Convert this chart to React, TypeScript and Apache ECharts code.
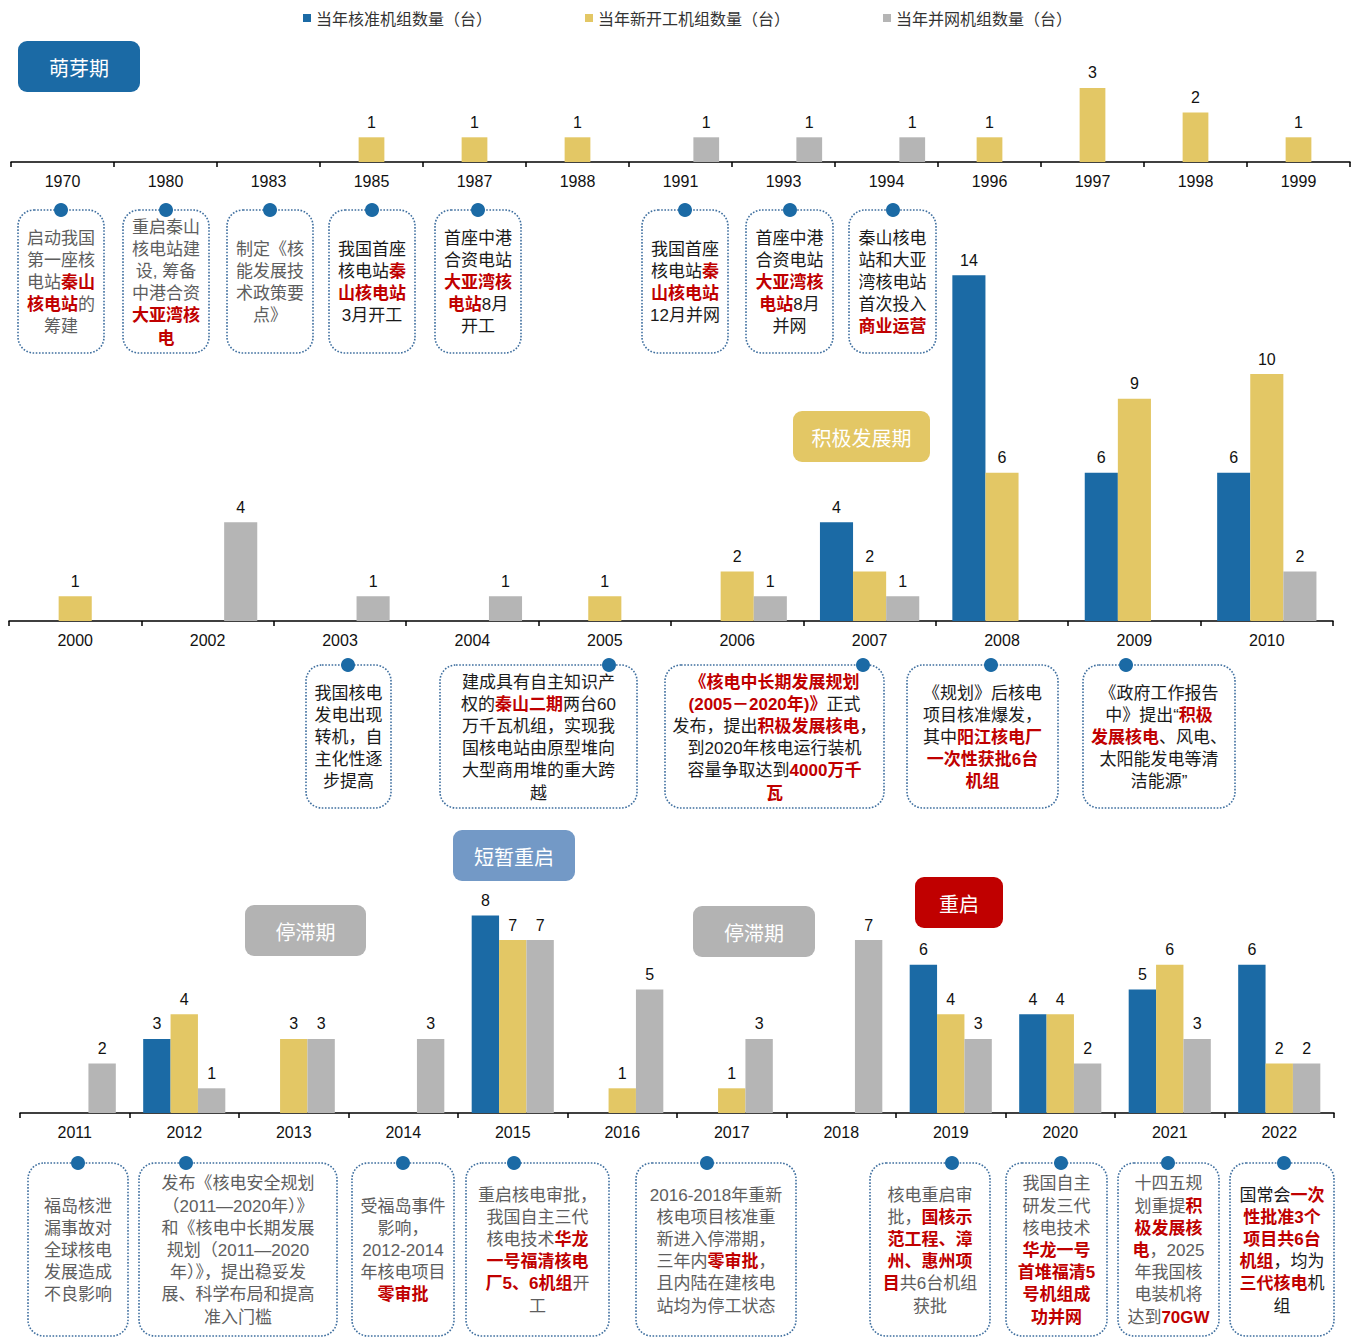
import React, { useEffect, useRef } from 'react';
import * as echarts from 'echarts';

// ---------- data ----------
const SERIES_NAMES = ['当年核准机组数量（台）', '当年新开工机组数量（台）', '当年并网机组数量（台）'];

const years1 = ['1970', '1980', '1983', '1985', '1987', '1988', '1991', '1993', '1994', '1996', '1997', '1998', '1999'];
const approved1 = [null, null, null, null, null, null, null, null, null, null, null, null, null];
const started1 = [null, null, null, 1, 1, 1, null, null, null, 1, 3, 2, 1];
const connected1 = [null, null, null, null, null, null, 1, 1, 1, null, null, null, null];

const years2 = ['2000', '2002', '2003', '2004', '2005', '2006', '2007', '2008', '2009', '2010'];
const approved2 = [null, null, null, null, null, null, 4, 14, 6, 6];
const started2 = [1, null, null, null, 1, 2, 2, 6, 9, 10];
const connected2 = [null, 4, 1, 1, null, 1, 1, null, null, 2];

const years3 = ['2011', '2012', '2013', '2014', '2015', '2016', '2017', '2018', '2019', '2020', '2021', '2022'];
const approved3 = [null, 3, null, null, 8, null, null, null, 6, 4, 5, 6];
const started3 = [null, 4, 3, null, 7, 1, 1, null, 4, 4, 6, 2];
const connected3 = [2, 1, 3, 3, 7, 5, 3, 7, 3, 2, 3, 2];

const PHASE_TAGS = ['萌芽期', '积极发展期', '短暂重启', '停滞期', '停滞期', '重启'];

// [..] marks red bold emphasis
const NOTES_ROW1 = [
  ['启动我国', '第一座核', '电站[秦山]', '[核电站]的', '筹建'],
  ['重启秦山', '核电站建', '设, 筹备', '中港合资', '[大亚湾核]', '[电]'],
  ['制定《核', '能发展技', '术政策要', '点》'],
  ['我国首座', '核电站[秦]', '[山核电站]', '3月开工'],
  ['首座中港', '合资电站', '[大亚湾核]', '[电站]8月', '开工'],
  ['我国首座', '核电站[秦]', '[山核电站]', '12月并网'],
  ['首座中港', '合资电站', '[大亚湾核]', '[电站]8月', '并网'],
  ['秦山核电', '站和大亚', '湾核电站', '首次投入', '[商业运营]'],
];
const NOTES_ROW2 = [
  ['我国核电', '发电出现', '转机，自', '主化性逐', '步提高'],
  ['建成具有自主知识产', '权的[秦山二期]两台60', '万千瓦机组，实现我', '国核电站由原型堆向', '大型商用堆的重大跨', '越'],
  ['[《核电中长期发展规划]', '[(2005－2020年)》]正式', '发布，提出[积极发展核电]，', '到2020年核电运行装机', '容量争取达到[4000万千]', '[瓦]'],
  ['《规划》后核电', '项目核准爆发，', '其中[阳江核电厂]', '[一次性获批6台]', '[机组]'],
  ['《政府工作报告', '中》提出“[积极]', '[发展核电]、风电、', '太阳能发电等清', '洁能源”'],
];
const NOTES_ROW3 = [
  ['福岛核泄', '漏事故对', '全球核电', '发展造成', '不良影响'],
  ['发布《核电安全规划', '（2011—2020年）》', '和《核电中长期发展', '规划（2011—2020', '年）》，提出稳妥发', '展、科学布局和提高', '准入门槛'],
  ['受福岛事件', '影响，', '2012-2014', '年核电项目', '[零审批]'],
  ['重启核电审批，', '我国自主三代', '核电技术[华龙]', '[一号福清核电]', '[厂5、6机组]开', '工'],
  ['2016-2018年重新', '核电项目核准重', '新进入停滞期，', '三年内[零审批]，', '且内陆在建核电', '站均为停工状态'],
  ['核电重启审', '批，[国核示]', '[范工程、漳]', '[州、惠州项]', '[目]共6台机组', '获批'],
  ['我国自主', '研发三代', '核电技术', '[华龙一号]', '[首堆福清5]', '[号机组成]', '[功并网]'],
  ['十四五规', '划重提[积]', '[极发展核]', '[电]，2025', '年我国核', '电装机将', '达到[70GW]'],
  ['国常会[一次]', '[性批准3个]', '[项目共6台]', '[机组]，均为', '[三代核电]机', '组'],
];

// ---------- layout / style ----------
const COLORS = ['#1b6aa5', '#e3c765', '#b5b5b5'];
const FONT = '"Liberation Sans", Arial, "Noto Sans CJK SC", sans-serif';
const UNIT = 24.7;
const PANELS = [
  { cats: years1, vals: [approved1, started1, connected1], left: 11, width: 1339, axisY: 162, max: 4 },
  { cats: years2, vals: [approved2, started2, connected2], left: 9, width: 1324, axisY: 621, max: 15 },
  { cats: years3, vals: [approved3, started3, connected3], left: 20, width: 1314, axisY: 1113, max: 9 },
];
const TAG_LAYOUT = [
  { x: 18, y: 41, w: 122, h: 51, color: '#1b6aa5' },
  { x: 793, y: 411, w: 137, h: 51, color: '#e3c765' },
  { x: 453, y: 830, w: 122, h: 51, color: '#7399c6' },
  { x: 245, y: 905, w: 121, h: 51, color: '#b3b3b3' },
  { x: 693, y: 906, w: 122, h: 51, color: '#b3b3b3' },
  { x: 915, y: 877, w: 88, h: 51, color: '#c00000' },
];
const GRAY = '#5e5e5e';
const DARK = '#1a1a1a';
const ROW_LAYOUT = [
  {
    top: 210, h: 143, notes: NOTES_ROW1, boxes: [
      { x: 18, w: 86, dot: 61, c: GRAY }, { x: 123, w: 86, dot: 166, c: GRAY }, { x: 227, w: 86, dot: 270, c: GRAY },
      { x: 329, w: 86, dot: 372, c: DARK }, { x: 435, w: 86, dot: 478, c: DARK }, { x: 642, w: 86, dot: 685, c: DARK },
      { x: 746, w: 87, dot: 790, c: DARK }, { x: 849, w: 87, dot: 893, c: DARK },
    ],
  },
  {
    top: 665, h: 143, notes: NOTES_ROW2, boxes: [
      { x: 306, w: 85, dot: 348, c: DARK }, { x: 440, w: 197, dot: 609, c: DARK }, { x: 665, w: 219, dot: 863, c: DARK },
      { x: 907, w: 151, dot: 991, c: DARK }, { x: 1083, w: 152, dot: 1126, c: DARK },
    ],
  },
  {
    top: 1163, h: 173, notes: NOTES_ROW3, boxes: [
      { x: 28, w: 100, dot: 78, c: GRAY }, { x: 139, w: 198, dot: 186, c: GRAY }, { x: 352, w: 102, dot: 403, c: GRAY },
      { x: 466, w: 143, dot: 514, c: GRAY }, { x: 636, w: 160, dot: 707, c: GRAY }, { x: 870, w: 120, dot: 952, c: GRAY },
      { x: 1006, w: 101, dot: 1061, c: GRAY }, { x: 1118, w: 101, dot: 1168, c: GRAY }, { x: 1230, w: 104, dot: 1284, c: DARK },
    ],
  },
];

function toRich(line: string) {
  return line.replace(/\[([^\]]+)\]/g, (_m, s) => `{r|${s}}`);
}

function buildGraphics() {
  const els: any[] = [];
  TAG_LAYOUT.forEach((t, i) => {
    els.push({
      type: 'rect', shape: { x: t.x, y: t.y, width: t.w, height: t.h, r: 9 },
      style: { fill: t.color }, z: 10,
    });
    els.push({
      type: 'text', x: t.x + t.w / 2, y: t.y + t.h / 2 + 1, z: 11,
      style: {
        text: PHASE_TAGS[i], fill: '#ffffff', fontSize: 20, fontFamily: '"Noto Sans CJK SC"',
        align: 'center', verticalAlign: 'middle', textAlign: 'center', textVerticalAlign: 'middle',
      },
    });
  });
  ROW_LAYOUT.forEach((row) => {
    row.boxes.forEach((b, i) => {
      const lines = row.notes[i];
      els.push({
        type: 'rect', shape: { x: b.x, y: row.top, width: b.w, height: row.h, r: 16 },
        style: { fill: '#ffffff', stroke: '#3f6f9f', lineWidth: 1.6, lineDash: [1.6, 1.6] }, z: 10,
      });
      els.push({
        type: 'circle', shape: { cx: b.dot, cy: row.top, r: 7 },
        style: { fill: '#1b6aa5' }, z: 12,
      });
      const cx = b.x + b.w / 2;
      const cy = row.top + row.h / 2;
      const first = cy - (lines.length - 1) * 11.1 + 1;
      lines.forEach((ln, k) => {
        els.push({
          type: 'text', x: cx, y: first + k * 22.2, z: 11,
          style: {
            text: toRich(ln), fill: b.c, fontSize: 17, fontFamily: FONT,
            align: 'center', verticalAlign: 'middle', textAlign: 'center', textVerticalAlign: 'middle',
            rich: {
              r: { fill: '#c00000', fontWeight: 'bold', fontSize: 17, fontFamily: FONT },
            },
          },
        });
      });
    });
  });
  return els;
}

function buildOption() {
  const grids = PANELS.map((p) => ({
    left: p.left, width: p.width, top: p.axisY - p.max * UNIT, height: p.max * UNIT, containLabel: false,
  }));
  const xAxes = PANELS.map((p, gi) => ({
    type: 'category', gridIndex: gi, data: p.cats,
    axisLine: { lineStyle: { color: '#000', width: 1.5 } },
    axisTick: { show: true, length: 5, lineStyle: { color: '#000', width: 1.5 } },
    axisLabel: { interval: 0, fontSize: 16, color: '#111', margin: 11, fontFamily: FONT },
  }));
  const yAxes = PANELS.map((p, gi) => ({
    type: 'value', gridIndex: gi, min: 0, max: p.max, show: false, splitLine: { show: false },
  }));
  const series: any[] = [];
  PANELS.forEach((p, gi) => {
    p.vals.forEach((v, si) => {
      series.push({
        type: 'bar', name: SERIES_NAMES[si], xAxisIndex: gi, yAxisIndex: gi,
        data: v.map((x) => (x == null ? '-' : x)),
        barWidth: '25%', barGap: '0%',
        itemStyle: { color: COLORS[si] },
        label: { show: true, position: 'top', distance: 7, fontSize: 16, color: '#111', fontFamily: FONT },
      });
    });
  });
  return {
    animation: false,
    backgroundColor: '#ffffff',
    legend: {
      data: SERIES_NAMES, top: 5, left: 298, itemWidth: 8, itemHeight: 8, itemGap: 93, icon: 'rect',
      textStyle: { fontSize: 16, color: '#333', fontFamily: '"Noto Sans CJK SC"' },
    },
    grid: grids, xAxis: xAxes, yAxis: yAxes, series,
    graphic: buildGraphics(),
  };
}

export default function App() {
  const ref = useRef<HTMLDivElement>(null);
  useEffect(() => {
    if (!ref.current) return;
    const chart = echarts.init(ref.current, null, { renderer: 'svg' });
    chart.setOption(buildOption() as any);
    return () => chart.dispose();
  }, []);
  return <div ref={ref} style={{ position: 'absolute', left: 0, top: 0, width: 1356, height: 1338 }} />;
}
